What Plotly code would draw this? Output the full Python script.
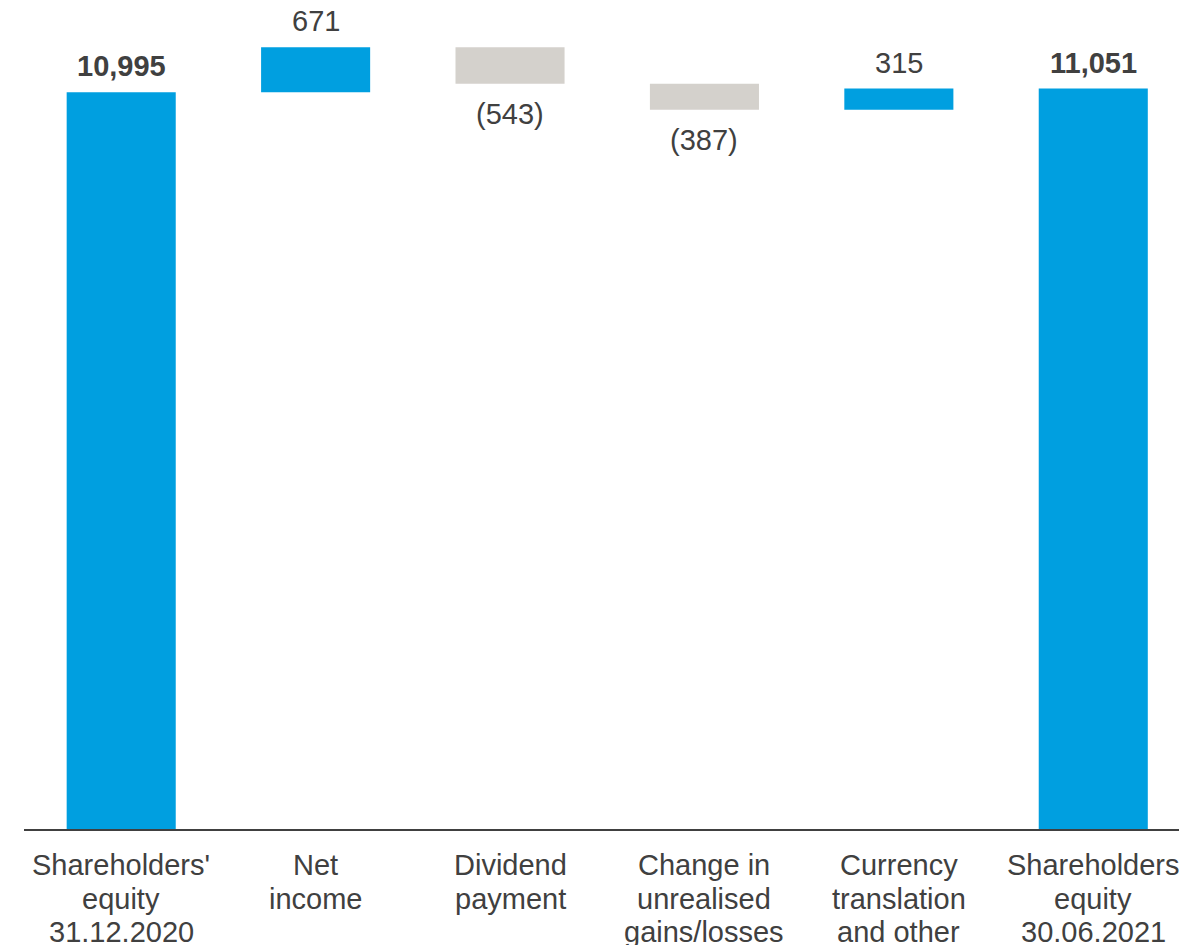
import plotly.graph_objects as go

categories = ["Shareholders' equity 31.12.2020", "Net income", "Dividend payment",
              "Change in unrealised gains/losses", "Currency translation and other",
              "Shareholders equity 30.06.2021"]
label_lines = [["Shareholders'", "equity", "31.12.2020"],
               ["Net", "income"],
               ["Dividend", "payment"],
               ["Change in", "unrealised", "gains/losses"],
               ["Currency", "translation", "and other"],
               ["Shareholders", "equity", "30.06.2021"]]
values = [10995, 671, -543, -387, 315, 11051]
measures = ["absolute", "relative", "relative", "relative", "relative", "total"]
value_text = ["10,995", "671", "(543)", "(387)", "315", "11,051"]

BLUE = "#009FE0"
GREY = "#D4D1CC"
TXT = "#404040"
FONT = "Liberation Sans, Arial, sans-serif"

fig = go.Figure(go.Waterfall(
    x=categories, y=values, measure=measures,
    width=0.561,
    increasing=dict(marker=dict(color=BLUE)),
    decreasing=dict(marker=dict(color=GREY)),
    totals=dict(marker=dict(color=BLUE)),
    connector=dict(visible=False),
    hoverinfo="skip",
))

annotations = []
running = 0
for i, (cat, v, m, t) in enumerate(zip(categories, values, measures, value_text)):
    if m == "absolute":
        start, end = 0, v
        running = v
    elif m == "total":
        start, end = 0, running
    else:
        start, end = running, running + v
        running = running + v
    top = max(start, end)
    bottom = min(start, end)
    bold = m in ("absolute", "total")
    if v >= 0:
        annotations.append(dict(x=cat, y=top, xref="x", yref="y", text=f"<b>{t}</b>" if bold else t,
                                showarrow=False, yanchor="middle", yshift=26,
                                font=dict(family=FONT, size=29, color=TXT)))
    else:
        annotations.append(dict(x=cat, y=bottom, xref="x", yref="y", text=t,
                                showarrow=False, yanchor="middle", yshift=-30,
                                font=dict(family=FONT, size=29, color=TXT)))
    for j, line in enumerate(label_lines[i]):
        annotations.append(dict(x=cat, y=0, xref="x", yref="paper", text=line,
                                showarrow=False, yanchor="middle", yshift=-(36 + j * 33.7),
                                font=dict(family=FONT, size=29, color=TXT)))

fig.update_layout(
    width=1179, height=945,
    margin=dict(l=24, r=0, t=0, b=116),
    plot_bgcolor="white", paper_bgcolor="white",
    showlegend=False,
    annotations=annotations,
    xaxis=dict(range=[-0.5, 5.441], showticklabels=False, showgrid=False, zeroline=False,
               showline=True, linecolor=TXT, linewidth=2, ticks=""),
    yaxis=dict(range=[0, 12373], visible=False, showgrid=False, zeroline=False),
)

fig.write_html("out.html", config={"displayModeBar": False},
               post_script="document.body.style.margin='0';document.body.style.overflow='hidden';")
